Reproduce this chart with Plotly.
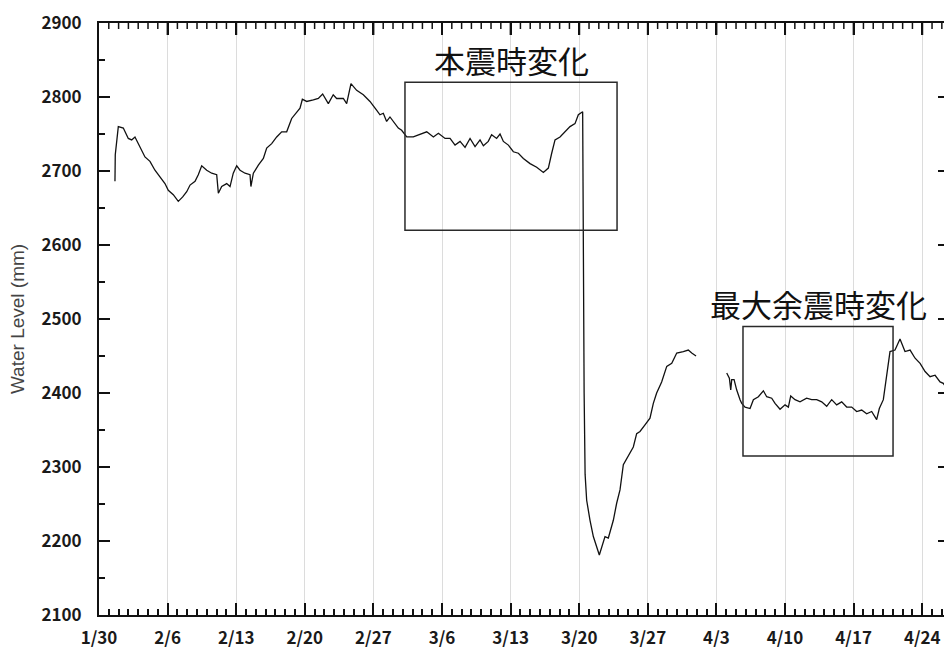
import plotly.graph_objects as go

# Time is measured in days elapsed since 1/30 (day 0)

# Segment 1: 1/31 - 4/1 (elapsed days, water level in mm)
seg1_days = [
    1.63, 1.66, 1.97, 2.48, 2.99, 3.33, 3.67, 4.18, 4.69, 5.20, 5.71, 6.22,
    6.73, 7.07, 7.58, 8.09, 8.54, 8.95, 9.29, 9.80, 10.13, 10.48, 10.99, 11.50,
    12.01, 12.18, 12.52, 13.03, 13.37, 13.70, 14.05, 14.39, 14.90, 15.41, 15.50,
    15.75, 16.26, 16.77, 17.11, 17.62, 18.13, 18.64, 19.15, 19.66, 20.17, 20.51,
    20.75, 21.19, 21.87, 22.38, 22.82, 23.40, 23.90, 24.25, 24.93, 25.27, 25.71,
    26.29, 26.97, 27.65, 28.34, 28.67, 29.01, 29.35, 29.69, 30.20, 30.54, 30.88,
    31.40, 32.07, 32.76, 33.44, 34.12, 34.63, 35.31, 35.82, 36.33, 36.84, 37.35,
    37.86, 38.37, 38.88, 39.22, 39.72, 40.06, 40.57, 40.92, 41.26, 41.77, 42.28,
    42.79, 43.30, 43.98, 44.66, 45.34, 45.85, 46.19, 46.53, 47.04, 47.55, 48.06,
    48.57, 48.91, 49.35, 49.38, 49.42, 49.50, 49.60, 49.76, 50.10, 50.44, 51.05,
    51.63, 51.97, 52.48, 52.82, 53.16, 53.50, 54.01, 54.52, 54.86, 55.20, 55.71,
    56.22, 56.56, 56.90, 57.41, 57.93, 58.44, 58.95, 59.62, 60.13, 60.48, 60.92,
]
seg1_level = [
    2686, 2722, 2760, 2758, 2744, 2742, 2746, 2733, 2719, 2713, 2701, 2692,
    2683, 2674, 2668, 2659, 2665, 2672, 2681, 2686, 2695, 2707, 2701, 2697,
    2695, 2670, 2679, 2683, 2679, 2697, 2707, 2701, 2697, 2695, 2679,
    2697, 2708, 2717, 2731, 2737, 2746, 2753, 2753, 2771, 2780, 2785,
    2797, 2794, 2796, 2798, 2804, 2791, 2803, 2798, 2798, 2791, 2818,
    2809, 2803, 2794, 2782, 2776, 2778, 2767, 2773, 2764, 2758, 2755,
    2746, 2746, 2749, 2753, 2746, 2751, 2744, 2744, 2735, 2740, 2732,
    2744, 2733, 2742, 2734, 2740, 2749, 2744, 2750, 2740, 2735, 2726,
    2724, 2717, 2710, 2705, 2698, 2704, 2724, 2742, 2746, 2753, 2760,
    2764, 2776, 2780, 2700, 2543, 2400, 2290, 2255, 2228, 2206, 2181,
    2206, 2204, 2228, 2251, 2269, 2303, 2316, 2327, 2345, 2348, 2357,
    2366, 2386, 2400, 2415, 2436, 2440, 2454, 2456, 2458, 2454, 2450,
]

# Segment 2: 4/4 - 4/26 (after the recording gap)
seg2_days = [
    64.05, 64.32, 64.46, 64.56, 64.80, 65.07, 65.41, 65.58, 65.92, 66.43, 66.77,
    67.28, 67.79, 68.13, 68.64, 68.98, 69.49, 70.00, 70.34, 70.58, 71.02, 71.53,
    72.20, 72.72, 73.23, 73.74, 74.25, 74.76, 75.27, 75.78, 76.29, 76.80, 77.31,
    77.82, 78.33, 78.84, 79.35, 79.62, 80.03, 80.37, 80.71, 81.22, 81.73, 82.24,
    82.76, 83.27, 83.78, 84.29, 84.80, 85.31, 85.82, 86.15, 86.40,
]
seg2_level = [
    2427, 2420, 2404, 2418, 2418, 2404, 2391, 2386, 2381, 2379, 2391,
    2395, 2403, 2395, 2393, 2386, 2378, 2384, 2381, 2396, 2391, 2388,
    2393, 2391, 2391, 2388, 2382, 2391, 2384, 2388, 2381, 2381, 2375,
    2377, 2372, 2375, 2364, 2379, 2391, 2427, 2456, 2458, 2473, 2456,
    2458, 2447, 2440, 2429, 2422, 2424, 2415, 2413, 2408,
]

# Weekly tick labels along the time axis (one every 7 days from day 0)
week_labels = ["1/30", "2/6", "2/13", "2/20", "2/27", "3/6", "3/13",
               "3/20", "3/27", "4/3", "4/10", "4/17", "4/24"]

# Annotated windows: (label, start day, end day, low mm, high mm)
windows = [
    ("本震時変化", 31.22, 52.86, 2620, 2820),
    ("最大余震時変化", 65.71, 81.02, 2315, 2490),
]

week_ticks = [7 * i for i in range(len(week_labels))]
X_RANGE = [0, 86.22]
Y_RANGE = [2100, 2900]
PLOT_H = 648 - 23 - 33  # plot-area height in px

INK = "#111111"
line_style = dict(color=INK, width=1.3)

fig = go.Figure()
fig.add_trace(go.Scatter(x=seg1_days, y=seg1_level, mode="lines",
                         line=line_style, showlegend=False, hoverinfo="skip"))
# second segment sits on the overlay axes that carry the top/right frame
fig.add_trace(go.Scatter(x=seg2_days, y=seg2_level, mode="lines",
                         line=line_style, showlegend=False, hoverinfo="skip",
                         xaxis="x2", yaxis="y2"))

tick_font = dict(family="Noto Sans CJK JP", size=17, color="#1a1a1a", weight="bold")
label_font = dict(family="Noto Sans CJK JP", size=31, color=INK)

shapes = []
annotations = []
for text, d0, d1, lo, hi in windows:
    shapes.append(dict(type="rect", xref="x", yref="y", x0=d0, x1=d1, y0=lo, y1=hi,
                       line=dict(color="#2a2a2a", width=1.5), fillcolor="rgba(0,0,0,0)",
                       layer="above"))
    annotations.append(dict(text=text, xref="x", yref="y", x=(d0 + d1) / 2, y=hi,
                            yshift=-2, xanchor="center", yanchor="bottom",
                            showarrow=False, font=label_font))

# tick marks hanging from the top frame: weekly long, daily short
for day in range(1, int(X_RANGE[1]) + 1):
    weekly = day % 7 == 0
    length = 12 if weekly else 6
    shapes.append(dict(type="line", xref="x", yref="y domain",
                       x0=day, x1=day, y0=1, y1=1 - length / PLOT_H,
                       line=dict(color=INK, width=2 if weekly else 1.5),
                       layer="above"))

daily_minor = dict(dtick=1, tick0=0, ticks="inside", ticklen=6,
                   tickwidth=1.5, tickcolor=INK, showgrid=False)

fig.update_layout(
    width=944, height=648,
    margin=dict(l=99, r=0, t=23, b=33),
    paper_bgcolor="white", plot_bgcolor="white",
    shapes=shapes, annotations=annotations,
    xaxis=dict(
        range=X_RANGE, automargin=False,
        tickmode="array", tickvals=week_ticks, ticktext=week_labels,
        ticks="inside", ticklen=12, tickwidth=2, tickcolor=INK,
        showline=True, linewidth=2, linecolor=INK, mirror=False,
        showgrid=True, gridcolor="#dcdcdc", gridwidth=1,
        tickfont=tick_font, ticklabelstandoff=7,
        minor=daily_minor, zeroline=False,
    ),
    # top frame line
    xaxis2=dict(
        overlaying="x", side="top", anchor="y2", matches="x", automargin=False,
        tickmode="linear", tick0=0, dtick=7,
        ticks="inside", ticklen=12, tickwidth=2, tickcolor=INK,
        showline=True, linewidth=2, linecolor=INK,
        showticklabels=False, showgrid=False, zeroline=False,
    ),
    yaxis=dict(
        range=Y_RANGE, dtick=100, tick0=2100, automargin=False,
        ticks="inside", ticklen=11, tickwidth=2, tickcolor=INK,
        showline=True, linewidth=2, linecolor=INK, mirror=False,
        showgrid=False, zeroline=False,
        tickfont=tick_font, ticklabelstandoff=12,
        minor=dict(dtick=50, tick0=2100, ticks="inside", ticklen=6,
                   tickwidth=1.5, tickcolor=INK, showgrid=False),
        title=dict(text="Water Level (mm)", standoff=12,
                   font=dict(family="Liberation Sans", size=19, color="#444444")),
    ),
    # right frame: short inward ticks only
    yaxis2=dict(
        overlaying="y", side="right", anchor="x2", matches="y", automargin=False,
        dtick=100, tick0=2100,
        ticks="inside", ticklen=6, tickwidth=2, tickcolor=INK,
        showticklabels=False, showline=False, showgrid=False, zeroline=False,
    ),
)

fig.write_html("out.html")
